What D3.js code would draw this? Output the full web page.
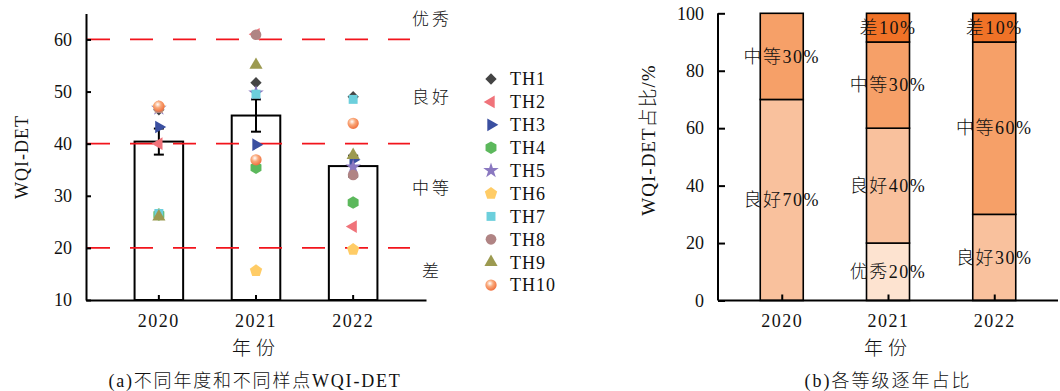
<!DOCTYPE html>
<html>
<head>
<meta charset="utf-8">
<script src="https://cdn.jsdelivr.net/npm/d3@7"></script>
<style>
  body { margin: 0; background: #fff; }
  text { font-family: "Liberation Serif", "Noto Sans CJK SC", serif; fill: #111; font-weight: 300; }
</style>
</head>
<body>
<div id="chart"></div>
<script>
// data
var years = ["2020", "2021", "2022"];
var meanWQI = [40.4, 45.4, 35.7];
var errWQI = [2.5, 3.1, 2.0];
var sites = ["TH1", "TH2", "TH3", "TH4", "TH5", "TH6", "TH7", "TH8", "TH9", "TH10"];
var siteValues = [ // one row per year, one value per site
    [46.5, 40.0, 43.2, 26.4, 46.8, 47.0, 26.6, 46.9, 26.0, 47.2],
    [51.7, 61.0, 39.8, 35.4, 49.7, 15.6, 49.5, 60.9, 55.1, 36.9],
    [49.0, 24.1, 36.9, 28.7, 35.5, 19.7, 48.5, 34.0, 37.8, 43.9]
];
var gradeLines = [20, 40, 60];
var gradeNames = ["优秀", "良好", "中等", "差"];
var gradeLabelAt = [64, 49, 31.5, 15.5];
var leftTicks = [10, 20, 30, 40, 50, 60];
var rightTicks = [0, 20, 40, 60, 80, 100];
var sharesExcellent = [0, 20, 0];
var sharesGood = [70, 40, 30];
var sharesMedium = [30, 30, 60];
var sharesPoor = [0, 10, 10];

var siteColors = ["#444444", "#f0737a", "#3a4fa0", "#5cb85c", "#8a78c0", "#ffcc66", "#6ccfdc", "#b08484", "#9c9a50", "#f4875a"];
var gradeColors = ["#fde3d0", "#f9c19d", "#f6a068", "#f07227"];

var svg = d3.select("#chart").append("svg")
    .attr("width", 1060)
    .attr("height", 391);

var defs = svg.append("defs");
var grad = defs.append("radialGradient").attr("id", "ball")
    .attr("cx", "40%").attr("cy", "35%").attr("r", "65%");
grad.append("stop").attr("offset", "0%").attr("stop-color", "#ffffff");
grad.append("stop").attr("offset", "45%").attr("stop-color", "#f9a87a");
grad.append("stop").attr("offset", "100%").attr("stop-color", "#f0703e");

// polygon helper for hexagon / pentagon
function polygon(n, r, rot) {
    var pts = d3.range(n).map(function(i) {
        var a = rot + i * 2 * Math.PI / n;
        return [r * Math.cos(a), r * Math.sin(a)];
    });
    return "M" + pts.join("L") + "Z";
}
function markerPath(i) {
    switch (i) {
        case 0: return d3.symbol(d3.symbolSquare, 64)();
        case 1: return d3.symbol(d3.symbolTriangle, 70)();
        case 2: return d3.symbol(d3.symbolTriangle, 70)();
        case 3: return polygon(6, 6.3, Math.PI / 6);
        case 4: return d3.symbol(d3.symbolStar, 75)();
        case 5: return polygon(5, 6.5, -Math.PI / 2);
        case 6: return d3.symbol(d3.symbolSquare, 80)();
        case 7: return d3.symbol(d3.symbolCircle, 90)();
        case 8: return d3.symbol(d3.symbolTriangle, 75)();
        default: return d3.symbol(d3.symbolCircle, 100)();
    }
}
function markerRotate(i) {
    if (i === 0) return " rotate(45)";
    if (i === 1) return " rotate(-90)";
    if (i === 2) return " rotate(90)";
    return "";
}

// Left chart
var x1 = d3.scaleBand().domain(years).range([86, 426]).padding(0.5);
var y1 = d3.scaleLinear().domain([10, 65]).range([300, 13.4]);

var gL = svg.append("g").attr("id", "left");

gL.selectAll("rect.bar")
    .data(meanWQI)
    .enter().append("rect")
    .attr("class", "bar")
    .attr("x", function(d, i) { return x1(years[i]); })
    .attr("y", function(d) { return y1(d); })
    .attr("width", x1.bandwidth())
    .attr("height", function(d) { return y1(10) - y1(d); })
    .attr("fill", "#fff")
    .attr("stroke", "#000")
    .attr("stroke-width", 2);

gL.selectAll("line.grade")
    .data(gradeLines)
    .enter().append("line")
    .attr("x1", 86).attr("x2", 410)
    .attr("y1", function(d) { return y1(d); })
    .attr("y2", function(d) { return y1(d); })
    .attr("stroke", "#f2141c")
    .attr("stroke-width", 1.8)
    .attr("stroke-dasharray", "23,20")
    .attr("stroke-dashoffset", -1);

// error bars
var eb = gL.selectAll("g.err")
    .data(meanWQI)
    .enter().append("g")
    .attr("transform", function(d, i) { return "translate(" + (x1(years[i]) + x1.bandwidth() / 2) + ",0)"; })
    .attr("stroke", "#000")
    .attr("stroke-width", 2);
eb.append("line")
    .attr("y1", function(d, i) { return y1(d - errWQI[i]); })
    .attr("y2", function(d, i) { return y1(d + errWQI[i]); });
eb.append("line").attr("x1", -5).attr("x2", 5)
    .attr("y1", function(d, i) { return y1(d - errWQI[i]); })
    .attr("y2", function(d, i) { return y1(d - errWQI[i]); });
eb.append("line").attr("x1", -5).attr("x2", 5)
    .attr("y1", function(d, i) { return y1(d + errWQI[i]); })
    .attr("y2", function(d, i) { return y1(d + errWQI[i]); });

// site points
var pts = [];
siteValues.forEach(function(row, yi) {
    row.forEach(function(v, si) { pts.push({year: years[yi], site: si, v: v}); });
});
gL.selectAll("path.pt")
    .data(pts)
    .enter().append("path")
    .attr("d", function(d) { return markerPath(d.site); })
    .attr("transform", function(d) {
        return "translate(" + (x1(d.year) + x1.bandwidth() / 2) + "," + y1(d.v) + ")" + markerRotate(d.site);
    })
    .attr("fill", function(d) { return d.site === 9 ? "url(#ball)" : siteColors[d.site]; });

// axes
var axL = gL.append("g").attr("transform", "translate(86,0)")
    .call(d3.axisLeft(y1).tickValues(leftTicks).tickSizeInner(-5).tickSizeOuter(0).tickPadding(14));
var axB = gL.append("g").attr("transform", "translate(0,300)")
    .call(d3.axisBottom(x1).tickSizeInner(-5).tickSizeOuter(0).tickPadding(14));
[axL, axB].forEach(function(a) {
    a.select(".domain").attr("stroke-width", 2);
    a.selectAll(".tick line").attr("stroke-width", 2);
    a.selectAll("text").style("font-size", "18px").style("font-family", "Liberation Serif").attr("fill", "#111");
});
axB.selectAll("text").style("letter-spacing", "1.5px");

// grade labels
gL.selectAll("text.gname")
    .data(gradeNames)
    .enter().append("text")
    .attr("x", 432)
    .attr("y", function(d, i) { return y1(gradeLabelAt[i]); })
    .attr("dy", "0.35em")
    .attr("text-anchor", "middle")
    .style("font-size", "17px")
    .style("letter-spacing", "3px")
    .text(function(d) { return d; });

// legend
var leg = gL.append("g").attr("transform", "translate(491,79)");
var li = leg.selectAll("g").data(sites).enter().append("g")
    .attr("transform", function(d, i) { return "translate(0," + (i * 22.9) + ")"; });
li.append("path")
    .attr("d", function(d, i) { return markerPath(i); })
    .attr("transform", function(d, i) { return "translate(0,0)" + markerRotate(i); })
    .attr("fill", function(d, i) { return i === 9 ? "url(#ball)" : siteColors[i]; });
li.append("text")
    .attr("x", 19).attr("dy", "0.35em")
    .style("font-size", "18px")
    .style("letter-spacing", "1px")
    .text(function(d) { return d; });

gL.append("text")
    .attr("transform", "translate(22,157) rotate(-90)")
    .attr("text-anchor", "middle")
    .attr("dy", "0.35em")
    .style("font-size", "18px")
    .style("letter-spacing", "1px")
    .text("WQI-DET");
gL.append("text")
    .attr("x", 256).attr("y", 355)
    .attr("text-anchor", "middle")
    .style("font-size", "19px")
    .style("letter-spacing", "5px")
    .text("年份");
gL.append("text")
    .attr("x", 255).attr("y", 387)
    .attr("text-anchor", "middle")
    .style("font-size", "18px")
    .style("letter-spacing", "1.8px")
    .text("(a)不同年度和不同样点WQI-DET");

// Right chart
var x2 = d3.scalePoint().domain(years).range([718, 1058]).padding(0.6);
var y2 = d3.scaleLinear().domain([0, 100]).range([300.5, 13.3]);
var bw = 43;

var stackRows = years.map(function(yr, i) {
    return {year: yr, e: sharesExcellent[i], g: sharesGood[i], m: sharesMedium[i], p: sharesPoor[i]};
});
var keys = ["e", "g", "m", "p"];
var series = d3.stack().keys(keys)(stackRows);

var gR = svg.append("g").attr("id", "right");

var layer = gR.selectAll("g.layer")
    .data(series)
    .enter().append("g")
    .attr("fill", function(d, i) { return gradeColors[i]; });
layer.selectAll("rect")
    .data(function(d) { return d.filter(function(s) { return s[1] - s[0] > 0; }); })
    .enter().append("rect")
    .attr("x", function(d) { return x2(d.data.year) - bw / 2; })
    .attr("y", function(d) { return y2(d[1]); })
    .attr("width", bw)
    .attr("height", function(d) { return y2(d[0]) - y2(d[1]); })
    .attr("stroke", "#000")
    .attr("stroke-width", 1.6);

layer.each(function(s, k) {
    d3.select(this).selectAll("text")
        .data(s.filter(function(d) { return d[1] - d[0] > 0; }))
        .enter().append("text")
        .attr("x", function(d) { return x2(d.data.year); })
        .attr("y", function(d) { return y2((d[0] + d[1]) / 2); })
        .attr("dy", "0.35em")
        .attr("text-anchor", "middle")
        .style("font-size", "18px")
        .style("letter-spacing", "1.5px")
        .attr("fill", "#222")
        .text(function(d) { return gradeNames[k] + (d[1] - d[0]) + "%"; });
});

var axL2 = gR.append("g").attr("transform", "translate(718,0)")
    .call(d3.axisLeft(y2).tickValues(rightTicks).tickSizeInner(-7).tickSizeOuter(0).tickPadding(14));
var axB2 = gR.append("g").attr("transform", "translate(0,300.5)")
    .call(d3.axisBottom(x2).tickSizeInner(-6).tickSizeOuter(0).tickPadding(14));
axL2.select(".domain").attr("d", "M0,300.5V13.3");
axB2.select(".domain").attr("d", "M718,0H1058");
[axL2, axB2].forEach(function(a) {
    a.select(".domain").attr("stroke-width", 2);
    a.selectAll(".tick line").attr("stroke-width", 2);
    a.selectAll("text").style("font-size", "18px").style("font-family", "Liberation Serif").attr("fill", "#111");
});
axB2.selectAll("text").style("letter-spacing", "1.5px");

gR.append("text")
    .attr("transform", "translate(648,140) rotate(-90)")
    .attr("text-anchor", "middle")
    .attr("dy", "0.35em")
    .style("font-size", "19px")
    .style("letter-spacing", "1px")
    .text("WQI-DET占比/%");
gR.append("text")
    .attr("x", 888).attr("y", 355)
    .attr("text-anchor", "middle")
    .style("font-size", "19px")
    .style("letter-spacing", "5px")
    .text("年份");
gR.append("text")
    .attr("x", 888).attr("y", 387)
    .attr("text-anchor", "middle")
    .style("font-size", "18px")
    .style("letter-spacing", "2px")
    .text("(b)各等级逐年占比");
</script>
</body>
</html>
